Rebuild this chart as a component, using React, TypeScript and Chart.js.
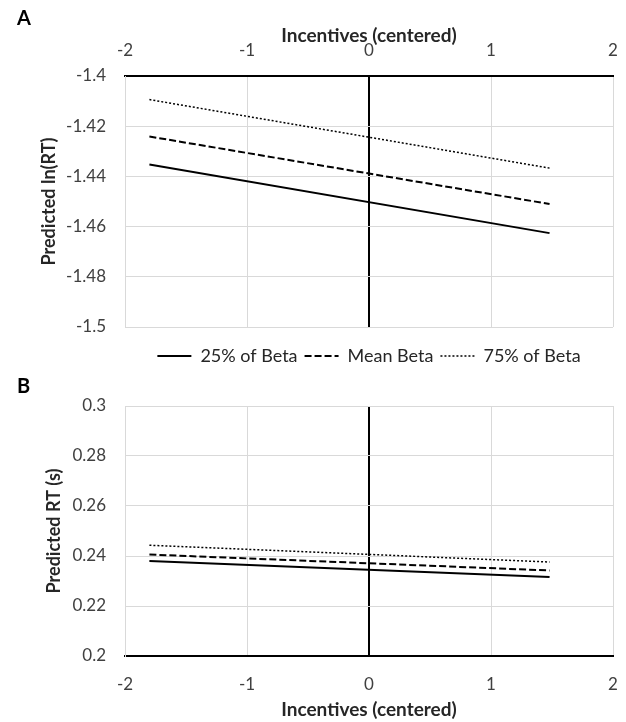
import React, { useEffect, useRef } from 'react';
import { Chart, registerables } from 'chart.js';

Chart.register(...registerables);

const FONT = 'Lato, "Open Sans", "DejaVu Sans", sans-serif';

// ---- data ----
const incentives = [-1.8, 1.48];
const seriesLabels = ['25% of Beta', 'Mean Beta', '75% of Beta'];
const lnRT25 = [-1.4353, -1.4626];
const lnRTMean = [-1.4241, -1.451];
const lnRT75 = [-1.4094, -1.4367];
const rt25 = [0.238, 0.2316];
const rtMean = [0.2406, 0.2342];
const rt75 = [0.2443, 0.2376];
const xTitle = 'Incentives (centered)';
const yTitleA = 'Predicted ln(RT)';
const yTitleB = 'Predicted RT (s)';

// ---- styles ----
const lineStyles = [
  { borderDash: [] as number[], borderWidth: 2 },
  { borderDash: [7, 3], borderWidth: 2 },
  { borderDash: [2, 2], borderWidth: 1.5 },
];
const GRID = '#d9d9d9';
const TICK_COLOR = '#404040';
const TITLE_COLOR = '#262626';

const fmt = (v: number) => String(Math.round(v * 100) / 100);
const near = (a: number, b: number) => Math.abs(a - b) < 1e-9;

function makeDatasets(series: number[][]) {
  return series.map((vals, i) => ({
    label: seriesLabels[i],
    data: incentives.map((x, j) => ({ x, y: vals[j] })),
    showLine: true,
    borderColor: '#000',
    backgroundColor: '#000',
    pointRadius: 0,
    pointHoverRadius: 0,
    fill: false,
    ...lineStyles[i],
  }));
}

function panelLabel(text: string, x: number, y: number) {
  return {
    id: 'panelLabel' + text,
    afterDraw(chart: any) {
      const ctx = chart.ctx;
      ctx.save();
      ctx.font = `bold 20px ${FONT}`;
      ctx.fillStyle = '#000';
      ctx.textBaseline = 'middle';
      ctx.textAlign = 'left';
      ctx.fillText(text, x, y);
      ctx.restore();
    },
  };
}

function xGrid(boldValue: number, tickLength: number) {
  return {
    drawTicks: true,
    tickLength,
    tickColor: 'rgba(0,0,0,0)',
    color: (c: any) => (c.tick && near(c.tick.value, boldValue) ? '#000' : GRID),
    lineWidth: (c: any) => (c.tick && near(c.tick.value, boldValue) ? 2 : 1),
  };
}

function legendLabels(chart: any) {
  return chart.data.datasets.map((ds: any, i: number) => ({
    text: ds.label,
    datasetIndex: i,
    fillStyle: '#000',
    strokeStyle: '#000',
    lineWidth: ds.borderWidth,
    lineDash: ds.borderDash,
    lineCap: 'butt',
    pointStyle: 'line',
    hidden: false,
    fontColor: TITLE_COLOR,
  }));
}

function configA(): any {
  return {
    type: 'scatter',
    data: { datasets: makeDatasets([lnRT25, lnRTMean, lnRT75]) },
    options: {
      animation: false,
      responsive: false,
      maintainAspectRatio: false,
      layout: { padding: { left: 0, right: 13, top: 0, bottom: 0 } },
      plugins: {
        tooltip: { enabled: false },
        legend: {
          position: 'bottom',
          fullSize: false,
          labels: {
            usePointStyle: true,
            pointStyle: 'line',
            pointStyleWidth: 34,
            padding: 7,
            color: TITLE_COLOR,
            font: { family: FONT, size: 18 },
            generateLabels: legendLabels,
          },
        },
      },
      scales: {
        x: {
          type: 'linear',
          position: 'top',
          min: -2,
          max: 2,
          ticks: { stepSize: 1, padding: 0, color: TICK_COLOR, font: { family: FONT, size: 17 }, callback: (v: number) => fmt(v) },
          grid: xGrid(0, 15),
          border: { color: '#000', width: 2 },
          title: { display: true, text: xTitle, color: TITLE_COLOR, font: { family: FONT, size: 19, weight: 'bold' }, padding: { top: 24, bottom: 0 } },
          afterFit: (s: any) => { s.height = 76; },
        },
        xGap: {
          type: 'linear',
          position: 'bottom',
          min: 0,
          max: 1,
          display: true,
          ticks: { display: false },
          grid: { display: false, drawTicks: false },
          border: { display: false },
          afterFit: (s: any) => { s.height = 13; },
        },
        y: {
          type: 'linear',
          min: -1.5,
          max: -1.4,
          ticks: { stepSize: 0.02, padding: 19, color: TICK_COLOR, font: { family: FONT, size: 17 }, callback: (v: number) => fmt(v) },
          grid: {
            drawTicks: false,
            color: (c: any) => (c.tick && near(c.tick.value, -1.4) ? '#000' : GRID),
            lineWidth: (c: any) => (c.tick && near(c.tick.value, -1.4) ? 2 : 1),
          },
          border: { color: GRID, width: 1 },
          title: { display: true, text: yTitleA, color: TITLE_COLOR, font: { family: FONT, size: 18, weight: 'bold' }, padding: { top: 38, bottom: 0 } },
          afterFit: (s: any) => { s.width = 125; },
        },
      },
    },
    plugins: [panelLabel('A', 17, 19)],
  };
}

function configB(): any {
  return {
    type: 'scatter',
    data: { datasets: makeDatasets([rt25, rtMean, rt75]) },
    options: {
      animation: false,
      responsive: false,
      maintainAspectRatio: false,
      layout: { padding: { left: 0, right: 13, top: 31, bottom: 0 } },
      plugins: {
        tooltip: { enabled: false },
        legend: { display: false },
      },
      scales: {
        x: {
          type: 'linear',
          position: 'bottom',
          min: -2,
          max: 2,
          ticks: { stepSize: 1, padding: 0, color: TICK_COLOR, font: { family: FONT, size: 17 }, callback: (v: number) => fmt(v) },
          grid: xGrid(0, 18),
          border: { color: '#000', width: 2 },
          title: { display: true, text: xTitle, color: TITLE_COLOR, font: { family: FONT, size: 19, weight: 'bold' }, padding: { top: 0, bottom: 1 } },
          afterFit: (s: any) => { s.height = 66; },
        },
        y: {
          type: 'linear',
          min: 0.2,
          max: 0.3,
          ticks: { stepSize: 0.02, padding: 19, color: TICK_COLOR, font: { family: FONT, size: 17 }, callback: (v: number) => fmt(v) },
          grid: {
            drawTicks: false,
            color: (c: any) => (c.tick && near(c.tick.value, 0.2) ? '#000' : GRID),
            lineWidth: (c: any) => (c.tick && near(c.tick.value, 0.2) ? 2 : 1),
          },
          border: { color: GRID, width: 1 },
          title: { display: true, text: yTitleB, color: TITLE_COLOR, font: { family: FONT, size: 18, weight: 'bold' }, padding: { top: 43, bottom: 0 } },
          afterFit: (s: any) => { s.width = 125; },
        },
      },
    },
    plugins: [panelLabel('B', 17, 12)],
  };
}

export default function App() {
  const refA = useRef<HTMLCanvasElement>(null);
  const refB = useRef<HTMLCanvasElement>(null);
  useEffect(() => {
    const a = new Chart(refA.current as HTMLCanvasElement, configA());
    const b = new Chart(refB.current as HTMLCanvasElement, configB());
    return () => {
      a.destroy();
      b.destroy();
    };
  }, []);
  return (
    <div style={{ position: 'absolute', left: 0, top: 0, width: 626, height: 722, background: '#fff' }}>
      <canvas ref={refA} width={626} height={375} style={{ position: 'absolute', left: 0, top: 0, width: 626, height: 375 }} />
      <canvas ref={refB} width={626} height={347} style={{ position: 'absolute', left: 0, top: 375, width: 626, height: 347 }} />
    </div>
  );
}
